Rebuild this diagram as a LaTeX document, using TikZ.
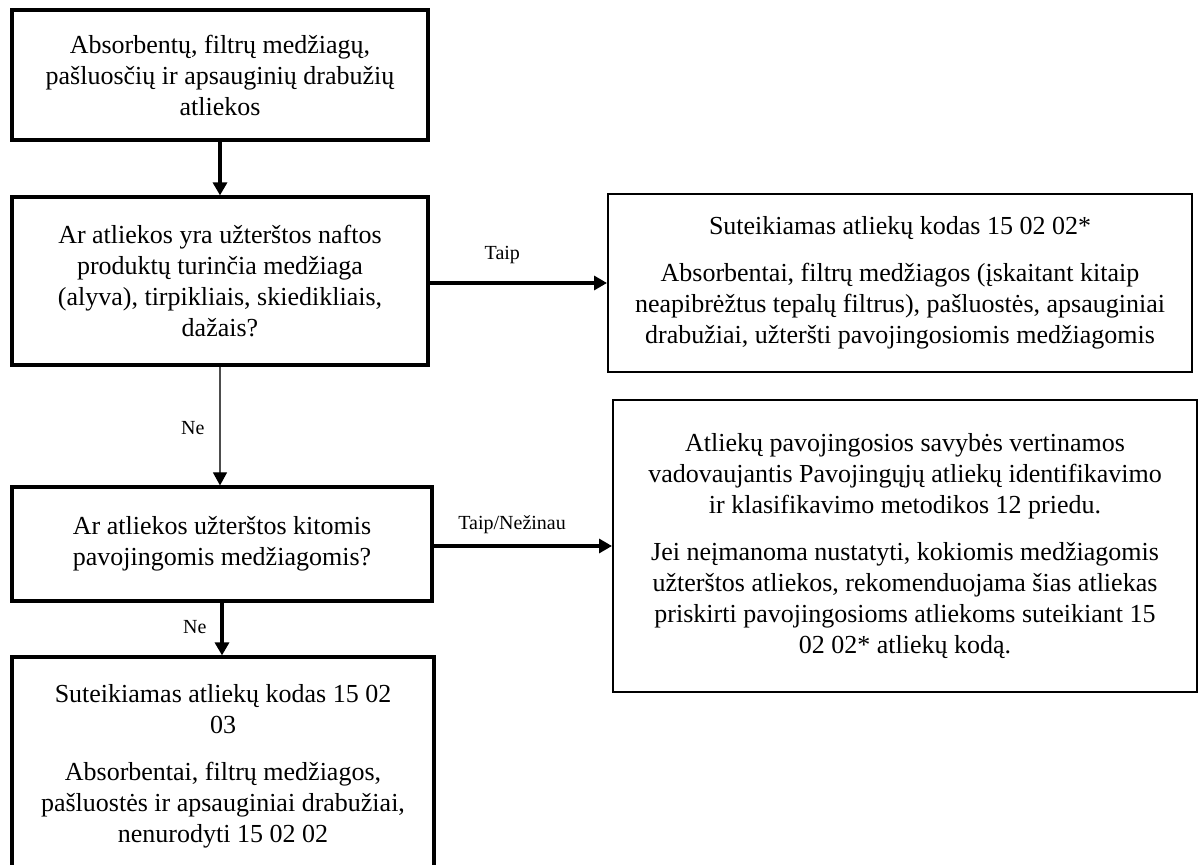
\documentclass[tikz,border=0pt]{standalone}
\usepackage{fontspec}
\setmainfont{Liberation Serif}
\usetikzlibrary{positioning,arrows.meta}
\definecolor{cLine}{HTML}{000000}
\definecolor{cThin}{HTML}{4D4D4D}
\newcommand{\boxfont}{\fontsize{13}{15.5}\selectfont}
\newcommand{\lblfont}{\fontsize{10}{12}\selectfont}
\tikzset{
  lbox/.style={draw=cLine,line width=1.6pt,align=center,font=\boxfont,inner sep=0pt},
  rbox/.style={lbox,line width=1pt},
  arr/.style={-{Triangle[length=6.5pt,width=7pt]},line width=1.6pt,draw=cLine},
  tarr/.style={-{Triangle[length=6.5pt,width=7pt,color=cLine]},line width=0.6pt,draw=cThin},
  lbl/.style={font=\lblfont,inner sep=1pt}}
\begin{document}
\begin{tikzpicture}[x=0.5pt,y=-0.5pt]
\useasboundingbox (0,0) rectangle (1204,865);
% left column
\node[lbox,minimum width=208pt,minimum height=65pt] (waste) at (220,75)
  {Absorbentų, filtrų medžiagų,\\ pašluosčių ir apsauginių drabužių\\ atliekos};
\node[lbox,minimum width=208pt,minimum height=84pt] (oilq) at (220,281)
  {Ar atliekos yra užterštos naftos\\ produktų turinčia medžiaga\\ (alyva), tirpikliais, skiedikliais,\\ dažais?};
\node[lbox,minimum width=210pt,minimum height=57pt] (otherq) at (222,544)
  {Ar atliekos užterštos kitomis\\ pavojingomis medžiagomis?};
\node[lbox,minimum width=211pt,minimum height=109pt] (code03) at (223,766)
  {Suteikiamas atliekų kodas 15 02\\ 03\\[8pt] Absorbentai, filtrų medžiagos,\\ pašluostės ir apsauginiai drabužiai,\\ nenurodyti 15 02 02};
% right column
\node[rbox,minimum width=292pt,minimum height=89pt] (code02) at (900,283)
  {Suteikiamas atliekų kodas 15 02 02*\\[8pt] Absorbentai, filtrų medžiagos (įskaitant kitaip\\ neapibrėžtus tepalų filtrus), pašluostės, apsauginiai\\ drabužiai, užteršti pavojingosiomis medžiagomis};
\node[rbox,minimum width=292pt,minimum height=146pt] (assess) at (905,546)
  {Atliekų pavojingosios savybės vertinamos\\ vadovaujantis Pavojingųjų atliekų identifikavimo\\ ir klasifikavimo metodikos 12 priedu.\\[8pt] Jei neįmanoma nustatyti, kokiomis medžiagomis\\ užterštos atliekos, rekomenduojama šias atliekas\\ priskirti pavojingosioms atliekoms suteikiant 15\\ 02 02* atliekų kodą.};
% connectors
\draw[arr] (waste) -- (oilq);
\draw[arr] (oilq.east |- code02.west) -- node[lbl,pos=0.41,above=8pt]{Taip} (code02.west);
\draw[tarr] (oilq.south) -- node[lbl,pos=0.52,left=6.5pt]{Ne} (oilq.south |- otherq.north);
\draw[arr] (otherq.east |- assess.west) -- node[lbl,pos=0.44,above=4.5pt]{Taip/Nežinau} (assess.west);
\draw[arr] (otherq.south) -- node[lbl,pos=0.46,left=6pt]{Ne} (otherq.south |- code03.north);
\end{tikzpicture}
\end{document}
